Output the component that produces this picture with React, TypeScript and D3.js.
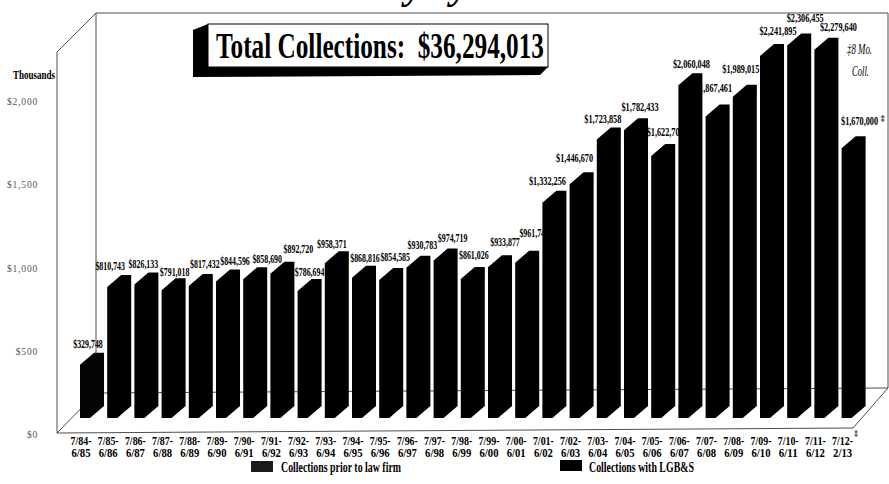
import React from "react";
import * as d3 from "d3";

const periodsTop = ["7/84-","7/85-","7/86-","7/87-","7/88-","7/89-","7/90-","7/91-","7/92-","7/93-","7/94-","7/95-","7/96-","7/97-","7/98-","7/99-","7/00-","7/01-","7/02-","7/03-","7/04-","7/05-","7/06-","7/07-","7/08-","7/09-","7/10-","7/11-","7/12-"];
const periodsBottom = ["6/85","6/86","6/87","6/88","6/89","6/90","6/91","6/92","6/93","6/94","6/95","6/96","6/97","6/98","6/99","6/00","6/01","6/02","6/03","6/04","6/05","6/06","6/07","6/08","6/09","6/10","6/11","6/12","2/13"];
const collections = [329748,810743,826133,791018,817432,844596,858690,892720,786694,958371,868816,854585,930783,974719,861026,933877,961745,1332256,1446670,1723858,1782433,1622706,2060048,1867461,1989015,2241895,2306455,2279640,1670000];
const series = ["Collections prior to law firm","Collections with LGB&S"];
const seriesOf = collections.map((_, i) => (i === 0 ? 0 : 1));
const yTicks = [0, 500, 1000, 1500, 2000];
const totalLabel = "Total Collections:  $36,294,013";
const noteLines = ["‡8 Mo.", "Coll."];
// small hand nudges of the value labels relative to their bar
const labelDx = [-4,-9,-3,1,4,7,12,16,0,-5,1,4,4,7,1,5,7,-7,-7,-6,4,2,1,-4,-4,6,6,12,6];
const labelDy = [-1,-1,-1,2,-2,-1,0,-5,1,1,0,-3,-3,-3,-4,-5,-10,-2,-6,-1,-3,-4,-1,-8,-8,-5,-8,-3,-7];

const SERIF = "'Liberation Serif','Times New Roman',serif";

export default function App() {
  const W = 889, H = 484;
  const keys = periodsTop.map((p, i) => p + periodsBottom[i]);
  const step = 27.2;
  const x = d3.scaleBand<string>().domain(keys).range([80, 80 + step * keys.length]).padding(0);
  const yBar = d3.scaleLinear().domain([0, 2000000]).range([406, 406 - 323]);
  const yAxis = d3.scaleLinear().domain([0, 2000]).range([435, 102]);
  const fmt = (v: number) => "$" + d3.format(",")(v);
  const axFmt = (v: number) => "$" + d3.format(",")(v);

  const faceW = 10, dX = 14, dY = 12;
  const barPath = (i: number) => {
    const x0 = x(keys[i])!;
    const backTop = yBar(collections[i]);
    const frontTop = backTop + dY;
    const frontBase = yBar(0) + dY;
    const backBase = yBar(0);
    return `M${x0},${frontBase}L${x0},${frontTop}L${x0 + dX},${backTop}L${x0 + faceW + dX},${backTop}L${x0 + faceW + dX},${backBase}L${x0 + faceW},${frontBase}Z`;
  };

  // frame geometry
  const L = 57, B = 96, T = 13, R = 888;
  const lineC = "#3a3a3a";

  return (
    <svg width={W} height={H} style={{ display: "block", position: "absolute", left: 0, top: 0, background: "#fff" }}>
      {/* clipped heading at very top */}
      <text x={423} y={-2} textAnchor="end" fontFamily={SERIF} fontWeight="bold" fontStyle="italic" fontSize={40} fill="#000">Collection History</text>
      <text x={431} y={-2} fontFamily={SERIF} fontWeight="bold" fontStyle="italic" fontSize={40} fill="#000">by Fiscal Year</text>

      {/* 3D frame */}
      <g stroke={lineC} strokeWidth={0.9} fill="none">
        <line x1={B} y1={T} x2={R} y2={T} />
        <line x1={B} y1={T} x2={B} y2={393} />
        <line x1={R} y1={T} x2={R} y2={388} />
        <line x1={B} y1={393} x2={R} y2={388} />
        <line x1={L} y1={52} x2={B} y2={T} />
        <line x1={L} y1={52} x2={L} y2={433} />
        <line x1={L} y1={433} x2={B} y2={393} />
        <line x1={L} y1={433} x2={853} y2={428} />
        <line x1={853} y1={428} x2={R} y2={388} />
      </g>

      {/* y axis */}
      <text x={55} y={79} textAnchor="end" fontFamily={SERIF} fontWeight="bold" fontSize={12.5} textLength={42} lengthAdjust="spacingAndGlyphs">Thousands</text>
      {yTicks.map((t) => (
        <text key={t} x={38} y={yAxis(t) + 3} textAnchor="end" fontFamily={SERIF} fontSize={9.5} letterSpacing={0.8} fill="#555">{axFmt(t)}</text>
      ))}

      {/* value labels (drawn first; bars overlap some of them) */}
      {collections.map((v, i) => {
        const s = fmt(v);
        const cx = x(keys[i])! + 12 + labelDx[i];
        return (
          <text key={"l" + i} x={cx} y={yBar(v) - 4 + labelDy[i]} textAnchor="middle" fontFamily={SERIF} fontWeight="bold" fontSize={12.5} textLength={s.length * 3.7} lengthAdjust="spacingAndGlyphs" fill="#000">{s}</text>
        );
      })}

      {/* bars */}
      {collections.map((_, i) => (
        <path key={"b" + i} d={barPath(i)} fill={seriesOf[i] === 0 ? "#050505" : "#000"} />
      ))}

      {/* notes */}
      <text x={x(keys[28])! + 12 + labelDx[28] + 21} y={yBar(collections[28]) - 15} fontFamily={SERIF} fontWeight="bold" fontSize={9}>‡</text>
      <text x={847} y={54} fontFamily={SERIF} fontStyle="italic" fontSize={15} textLength={25} lengthAdjust="spacingAndGlyphs">{noteLines[0]}</text>
      <text x={852} y={76} fontFamily={SERIF} fontStyle="italic" fontSize={15} textLength={17} lengthAdjust="spacingAndGlyphs">{noteLines[1]}</text>

      {/* x axis labels */}
      {keys.map((k, i) => {
        const cx = x(k)! + 1;
        return (
          <g key={"x" + i} fontFamily={SERIF} fontWeight="bold" fontSize={11.5} fill="#000">
            <text x={cx} y={445} textAnchor="middle" textLength={21} lengthAdjust="spacingAndGlyphs">{periodsTop[i]}</text>
            <text x={cx} y={457} textAnchor="middle" textLength={19} lengthAdjust="spacingAndGlyphs">{periodsBottom[i]}</text>
          </g>
        );
      })}
      <text x={x(keys[28])! + 12.5} y={436} fontFamily={SERIF} fontWeight="bold" fontSize={8}>‡</text>

      {/* title box */}
      <path d="M193,30 L208,24 L548,24 L548,67 L540,75 L193,77 Z" fill="#000" />
      <rect x={208} y={24} width={340} height={43} fill="#fff" stroke="#000" strokeWidth={1} />
      <text x={216} y={58} fontFamily={SERIF} fontWeight="bold" fontSize={35} textLength={328} lengthAdjust="spacingAndGlyphs" fill="#000" style={{ whiteSpace: "pre" }}>{totalLabel}</text>

      {/* legend */}
      <rect x={251} y={461} width={22} height={11} fill="#1a1a1a" />
      <text x={281} y={472} fontFamily={SERIF} fontWeight="bold" fontSize={15} textLength={120} lengthAdjust="spacingAndGlyphs">{series[0]}</text>
      <rect x={560} y={460} width={22} height={11} fill="#000" />
      <text x={589} y={472} fontFamily={SERIF} fontWeight="bold" fontSize={15} textLength={105} lengthAdjust="spacingAndGlyphs">{series[1]}</text>
    </svg>
  );
}
